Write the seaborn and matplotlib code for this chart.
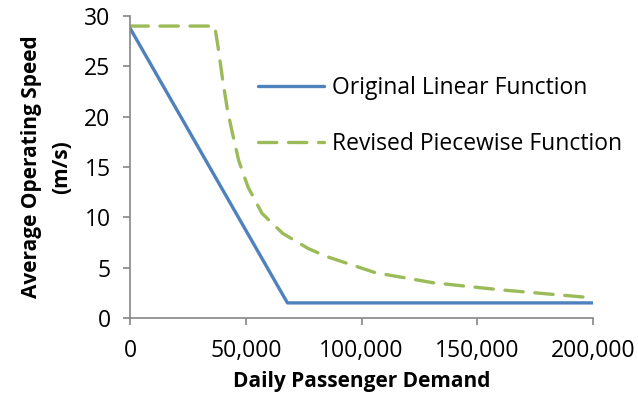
import matplotlib
matplotlib.use("Agg")
import matplotlib.pyplot as plt
import seaborn as sns
import pandas as pd
from matplotlib.ticker import FuncFormatter

# values
linear_demand = [0, 68000, 200000]
linear_speed = [28.8, 1.5, 1.5]

piecewise_demand = [0, 36600, 38000, 40000, 42000, 44000, 47000, 51000,
                    57000, 66000, 77000, 85000, 106000, 131000, 160000, 200000]
piecewise_speed = [29.0, 29.0, 27.0, 23.7, 20.8, 18.6, 15.6, 13.0,
                   10.4, 8.4, 6.9, 6.1, 4.5, 3.5, 2.8, 2.0]

y_ticks = [0, 5, 10, 15, 20, 25, 30]
x_ticks = [0, 50000, 100000, 150000, 200000]

sns.set_theme(style="white")
plt.rcParams["font.family"] = ["Open Sans", "DejaVu Sans"]
plt.rcParams["text.color"] = "black"

blue = "#4F81BD"
green = "#9BBB59"
grey = "#868686"

df_lin = pd.DataFrame({"demand": linear_demand, "speed": linear_speed})
df_pw = pd.DataFrame({"demand": piecewise_demand, "speed": piecewise_speed})

fig = plt.figure(figsize=(6.38, 4.01), dpi=100)
ax = fig.add_axes([130 / 638, 1 - 318 / 401, 463 / 638, 302 / 401])

sns.lineplot(data=df_lin, x="demand", y="speed", ax=ax, color=blue,
             linewidth=2.4, label="Original Linear Function", sort=False,
             solid_capstyle="round", solid_joinstyle="round")
sns.lineplot(data=df_pw, x="demand", y="speed", ax=ax, color=green,
             linewidth=2.4, label="Revised Piecewise Function", sort=False,
             dashes=False)
ax.lines[1].set_dashes((5.5, 3.5))
ax.lines[1].set_dash_capstyle("round")

ax.set_xlim(0, 200000)
ax.set_ylim(0, 30)
ax.set_xticks(x_ticks)
ax.set_yticks(y_ticks)
ax.xaxis.set_major_formatter(FuncFormatter(lambda v, p: f"{int(v):,}"))

for side in ["top", "right"]:
    ax.spines[side].set_visible(False)
for side in ["left", "bottom"]:
    ax.spines[side].set_color(grey)
    ax.spines[side].set_linewidth(1.2)
ax.tick_params(axis="both", which="major", direction="out", length=5,
               width=1.2, color=grey, labelsize=16.5, labelcolor="black",
               left=True, bottom=True)
ax.tick_params(axis="x", pad=10)
ax.tick_params(axis="y", pad=9)

ax.set_xlabel("Daily Passenger Demand", fontsize=15, fontweight="bold",
              labelpad=6, color="black")
ax.set_ylabel("Average Operating Speed\n(m/s)", fontsize=15,
              fontweight="bold", labelpad=9, linespacing=1.55, color="black")

ax.legend(loc="upper left", bbox_to_anchor=(258 / 638, 1 - 76 / 401),
          bbox_transform=fig.transFigure, frameon=False, fontsize=16.5,
          handlelength=2.9, handletextpad=0.35, labelspacing=1.4,
          borderpad=0, borderaxespad=0)

plt.savefig("out.png", dpi=100)
plt.close()
